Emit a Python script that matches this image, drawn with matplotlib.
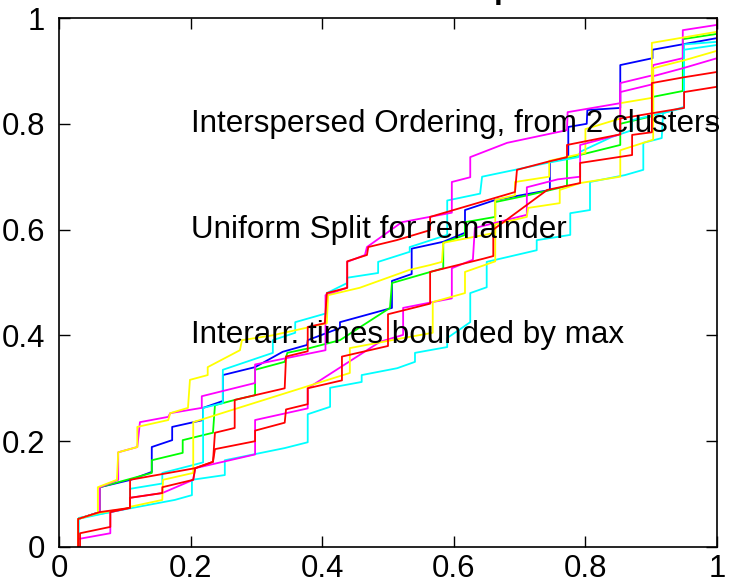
import matplotlib
matplotlib.use("Agg")
import matplotlib.pyplot as plt

# staircase curves, one x/y pair per trace (jumps are repeated x values)
blue_x = [0.029, 0.029, 0.062, 0.062, 0.109, 0.141, 0.141, 0.172, 0.172, 0.219,
          0.219, 0.249, 0.249, 0.298, 0.340, 0.377, 0.378, 0.427, 0.427, 0.506,
          0.506, 0.536, 0.536, 0.584, 0.617, 0.617, 0.663, 0.746, 0.746, 0.774,
          0.774, 0.802, 0.803, 0.853, 0.853, 0.902, 0.902, 1.0]
blue_y = [0, 0.053, 0.066, 0.113, 0.127, 0.142, 0.189, 0.202, 0.227, 0.240,
          0.263, 0.276, 0.325, 0.340, 0.369, 0.382, 0.391, 0.414, 0.425, 0.452,
          0.503, 0.516, 0.564, 0.577, 0.594, 0.637, 0.656, 0.675, 0.728, 0.737,
          0.794, 0.800, 0.826, 0.830, 0.911, 0.924, 0.940, 0.962]

green_x = [0.029, 0.029, 0.062, 0.062, 0.141, 0.141, 0.188, 0.188, 0.234, 0.237,
           0.267, 0.298, 0.298, 0.343, 0.347, 0.381, 0.427, 0.503, 0.506, 0.584,
           0.584, 0.617, 0.617, 0.663, 0.663, 0.713, 0.761, 0.772, 0.772, 0.853,
           0.853, 0.903, 0.903, 0.948, 0.948, 1.0]
green_y = [0, 0.053, 0.066, 0.113, 0.140, 0.164, 0.178, 0.202, 0.216, 0.268,
           0.278, 0.287, 0.335, 0.350, 0.367, 0.376, 0.391, 0.452, 0.499, 0.527,
           0.575, 0.590, 0.614, 0.624, 0.652, 0.665, 0.679, 0.683, 0.735, 0.760,
           0.800, 0.815, 0.851, 0.862, 0.960, 0.970]

cyan1_x = [0.029, 0.029, 0.108, 0.108, 0.157, 0.157, 0.204, 0.219, 0.219, 0.249,
           0.249, 0.325, 0.325, 0.359, 0.359, 0.407, 0.407, 0.438, 0.438, 0.485,
           0.485, 0.533, 0.533, 0.590, 0.590, 0.640, 0.643, 0.693, 0.742, 0.789,
           0.792, 0.840, 0.871, 0.871, 0.916, 0.950, 0.950, 1.0]
cyan1_y = [0, 0.053, 0.074, 0.110, 0.120, 0.140, 0.155, 0.160, 0.263, 0.272,
           0.335, 0.367, 0.391, 0.405, 0.425, 0.442, 0.480, 0.499, 0.509, 0.518,
           0.539, 0.558, 0.567, 0.590, 0.655, 0.668, 0.700, 0.713, 0.726, 0.737,
           0.747, 0.775, 0.788, 0.807, 0.820, 0.830, 0.950, 0.955]

magenta1_x = [0.029, 0.029, 0.062, 0.062, 0.090, 0.090, 0.119, 0.123, 0.166, 0.169,
              0.217, 0.217, 0.298, 0.298, 0.405, 0.405, 0.438, 0.438, 0.465, 0.468,
              0.521, 0.597, 0.597, 0.625, 0.625, 0.681, 0.772, 0.773, 0.853, 0.853,
              0.903, 0.903, 0.948, 0.948, 1.0]
magenta1_y = [0, 0.053, 0.066, 0.113, 0.127, 0.179, 0.189, 0.236, 0.246, 0.253,
              0.263, 0.285, 0.310, 0.345, 0.372, 0.476, 0.490, 0.539, 0.552, 0.567,
              0.614, 0.632, 0.690, 0.699, 0.737, 0.764, 0.788, 0.822, 0.839, 0.877,
              0.892, 0.911, 0.924, 0.977, 0.987]

yellow1_x = [0.029, 0.029, 0.059, 0.059, 0.088, 0.090, 0.119, 0.119, 0.166, 0.169,
             0.196, 0.199, 0.226, 0.226, 0.275, 0.278, 0.324, 0.407, 0.409, 0.457,
             0.533, 0.564, 0.582, 0.584, 0.663, 0.663, 0.693, 0.693, 0.745, 0.745,
             0.800, 0.800, 0.853, 0.853, 0.901, 0.901, 1.0]
yellow1_y = [0, 0.053, 0.064, 0.113, 0.127, 0.179, 0.189, 0.227, 0.240, 0.253,
             0.263, 0.316, 0.325, 0.340, 0.372, 0.391, 0.400, 0.423, 0.476, 0.490,
             0.524, 0.533, 0.539, 0.575, 0.594, 0.656, 0.665, 0.690, 0.700, 0.730,
             0.745, 0.790, 0.810, 0.839, 0.849, 0.953, 0.974]

cyan2_x = [0.030, 0.030, 0.078, 0.176, 0.202, 0.202, 0.252, 0.252, 0.343, 0.378,
           0.378, 0.412, 0.412, 0.460, 0.460, 0.514, 0.541, 0.541, 0.590, 0.590,
           0.625, 0.625, 0.650, 0.650, 0.726, 0.726, 0.777, 0.777, 0.807, 0.807,
           0.860, 0.888, 0.888, 0.916, 0.918, 0.950, 0.950, 1.0]
cyan2_y = [0, 0.055, 0.066, 0.089, 0.098, 0.127, 0.136, 0.164, 0.187, 0.198,
           0.251, 0.265, 0.301, 0.312, 0.325, 0.338, 0.350, 0.367, 0.378, 0.395,
           0.425, 0.480, 0.491, 0.539, 0.561, 0.580, 0.590, 0.631, 0.637, 0.690,
           0.703, 0.713, 0.764, 0.773, 0.820, 0.832, 0.940, 0.949]

magenta2_x = [0.029, 0.029, 0.078, 0.078, 0.108, 0.108, 0.157, 0.204, 0.207, 0.298,
              0.298, 0.378, 0.378, 0.488, 0.523, 0.523, 0.568, 0.597, 0.597, 0.629,
              0.632, 0.711, 0.711, 0.758, 0.792, 0.792, 0.853, 0.853, 0.903, 0.903,
              0.948, 1.0]
magenta2_y = [0, 0.015, 0.026, 0.066, 0.074, 0.093, 0.102, 0.127, 0.149, 0.175,
              0.240, 0.262, 0.300, 0.388, 0.401, 0.452, 0.463, 0.470, 0.527, 0.543,
              0.603, 0.628, 0.680, 0.695, 0.700, 0.760, 0.780, 0.860, 0.875, 0.890,
              0.905, 0.924]

yellow2_x = [0.029, 0.029, 0.059, 0.108, 0.108, 0.157, 0.158, 0.204, 0.204, 0.442,
             0.442, 0.523, 0.568, 0.568, 0.617, 0.617, 0.663, 0.663, 0.711, 0.713,
             0.761, 0.761, 0.792, 0.853, 0.853, 0.903, 0.903, 0.950, 1.0]
yellow2_y = [0, 0.053, 0.064, 0.074, 0.076, 0.089, 0.127, 0.140, 0.236, 0.329,
             0.376, 0.395, 0.405, 0.463, 0.480, 0.520, 0.540, 0.610, 0.624, 0.641,
             0.650, 0.675, 0.688, 0.700, 0.750, 0.770, 0.905, 0.920, 0.938]

red2_x = [0.032, 0.032, 0.078, 0.078, 0.108, 0.108, 0.157, 0.157, 0.204, 0.207,
          0.234, 0.237, 0.298, 0.298, 0.343, 0.345, 0.378, 0.378, 0.430, 0.430,
          0.500, 0.500, 0.564, 0.564, 0.645, 0.660, 0.660, 0.742, 0.792, 0.792,
          0.871, 0.871, 0.901, 0.901, 0.950, 1.0, 1.0]
red2_y = [0, 0.026, 0.038, 0.066, 0.074, 0.093, 0.102, 0.113, 0.127, 0.149,
          0.161, 0.185, 0.200, 0.220, 0.235, 0.260, 0.270, 0.300, 0.315, 0.360,
          0.380, 0.440, 0.460, 0.520, 0.545, 0.550, 0.600, 0.675, 0.688, 0.726,
          0.741, 0.779, 0.784, 0.877, 0.888, 0.898, 1.0]

red1_x = [0.029, 0.029, 0.062, 0.108, 0.108, 0.207, 0.234, 0.237, 0.267, 0.267,
          0.298, 0.343, 0.345, 0.378, 0.378, 0.404, 0.407, 0.438, 0.438, 0.468,
          0.470, 0.513, 0.564, 0.564, 0.693, 0.696, 0.742, 0.772, 0.772, 0.853,
          0.853, 0.950, 0.950, 1.0, 1.0]
red1_y = [0, 0.053, 0.066, 0.074, 0.127, 0.149, 0.161, 0.216, 0.225, 0.278,
          0.287, 0.300, 0.360, 0.370, 0.416, 0.423, 0.480, 0.490, 0.540, 0.552,
          0.567, 0.580, 0.599, 0.624, 0.671, 0.713, 0.728, 0.737, 0.760, 0.780,
          0.810, 0.830, 0.860, 0.870, 1.0]

notes = ["Interspersed Ordering, from 2 clusters",
         "Uniform Split for remainder",
         "Interarr. times bounded by max"]
note_y = [0.8, 0.6, 0.4]
ticks = [0, 0.2, 0.4, 0.6, 0.8, 1]
tick_labels = ["0", "0.2", "0.4", "0.6", "0.8", "1"]

plt.rcParams['font.family'] = ['Liberation Sans', 'DejaVu Sans']

fig = plt.figure(figsize=(7.34, 5.83), dpi=100)
ax = fig.add_axes([59 / 734, 36 / 583, 658 / 734, 529 / 583])

# pure matlab-style colours
B, G, R = '#0000ff', '#00ff00', '#ff0000'
C, M, Y = '#00ffff', '#ff00ff', '#ffff00'

# draw order: reds end up on top like in the original
traces = [(blue_x, blue_y, B), (green_x, green_y, G),
          (cyan1_x, cyan1_y, C), (magenta1_x, magenta1_y, M),
          (yellow1_x, yellow1_y, Y), (cyan2_x, cyan2_y, C),
          (magenta2_x, magenta2_y, M), (yellow2_x, yellow2_y, Y),
          (red2_x, red2_y, R), (red1_x, red1_y, R)]
for xs, ys, col in traces:
    ax.plot(xs, ys, color=col, linewidth=1.3)

for txt, ty in zip(notes, note_y):
    ax.text(0.2, ty, txt, fontsize=22.6, va='center', ha='left', color='black')

ax.set_xlim(0, 1)
ax.set_ylim(0, 1)
ax.set_xticks(ticks)
ax.set_xticklabels(tick_labels)
ax.set_yticks(ticks)
ax.set_yticklabels(tick_labels)
ax.tick_params(direction='in', length=8, width=1, labelsize=22.4,
               top=True, right=True, pad=5)
ax.tick_params(axis='y', pad=10)
for sp in ax.spines.values():
    sp.set_linewidth(1.2)

# title sits mostly above the canvas, only a descender shows
fig.text(404 / 734, 1.004, "Arrival time samples", fontsize=22.4,
         fontweight='bold', ha='center', va='baseline')

fig.savefig("out.png", dpi=100)
